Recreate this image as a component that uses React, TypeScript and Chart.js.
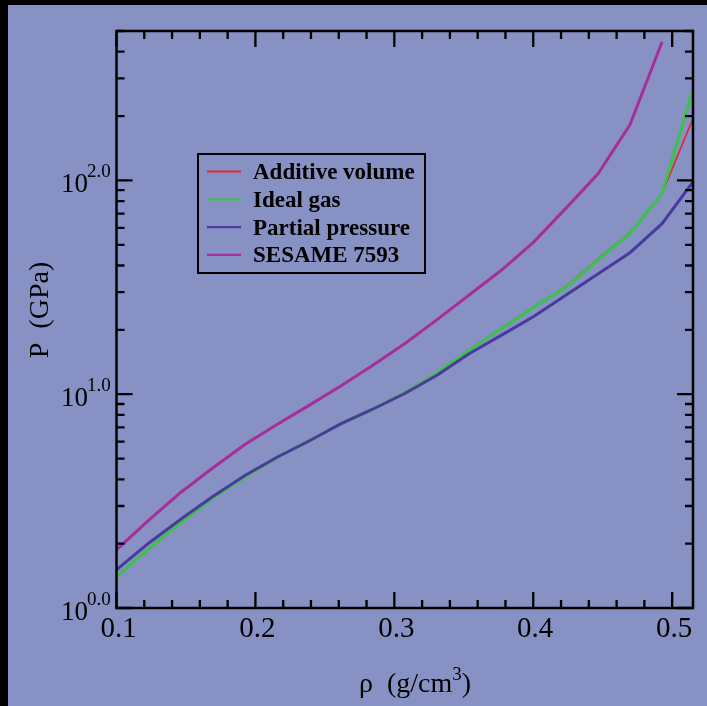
import React, { useEffect, useRef } from "react";
import { Chart, registerables } from "chart.js";

Chart.register(...registerables);

// ---- data ----
const densityNodes = [0.1, 0.1231, 0.1462, 0.1693, 0.1924, 0.2155, 0.2386, 0.2617, 0.2848, 0.3079, 0.331, 0.3541, 0.3772, 0.4003, 0.4234, 0.4465, 0.4696, 0.4927, 0.515];
const additiveVolume = [1.40, 1.89, 2.51, 3.27, 4.10, 5.05, 6.04, 7.28, 8.53, 10.2, 12.6, 16.1, 20.3, 25.5, 31.9, 43.0, 57.0, 86.9, 195];
const idealGas = [1.40, 1.89, 2.51, 3.27, 4.10, 5.05, 6.04, 7.28, 8.53, 10.2, 12.6, 16.1, 20.3, 25.5, 31.6, 42.4, 56.4, 86.9, 266];
const partialPressure = [1.51, 2.01, 2.60, 3.32, 4.17, 5.07, 6.04, 7.28, 8.53, 10.1, 12.3, 15.5, 18.9, 23.1, 29.0, 36.5, 45.9, 62.8, 98.4];
const sesame7593 = [1.87, 2.57, 3.47, 4.52, 5.82, 7.22, 8.87, 10.96, 13.7, 17.3, 22.4, 29.2, 38.1, 51.5, 74, 107, 182, 444, null];

const seriesNames = ["Additive volume", "Ideal gas", "Partial pressure", "SESAME 7593"];
const seriesColors = ["#e0282e", "#3ec04e", "#4a3a9e", "#a62e9c"];
const seriesWidths = [1.6, 3.2, 3, 3];

const xMajorTicks = [0.1, 0.2, 0.3, 0.4, 0.5];
const xTickLabels = ["0.1", "0.2", "0.3", "0.4", "0.5"];
const yMajorTicks = [1, 10, 100];
const yTickExponents = ["0.0", "1.0", "2.0"];
const xMin = 0.1, xMax = 0.515, yMin = 1, yMax = 500;

const BG = "#8891c3";
const SERIF = "'Liberation Serif', 'Times New Roman', serif";

function toPoints(vals: (number | null)[]) {
  return densityNodes.map((x, i) => ({ x, y: vals[i] })).filter((p) => p.y !== null);
}

const decorPlugin = {
  id: "decor",
  beforeDraw(chart: any) {
    const { ctx, width, height } = chart;
    ctx.save();
    ctx.fillStyle = BG;
    ctx.fillRect(0, 0, width, height);
    ctx.fillStyle = "#000";
    ctx.fillRect(0, 0, width, 5);
    ctx.fillRect(0, 0, 8, height);
    ctx.restore();
  },
  afterDraw(chart: any) {
    const { ctx, chartArea: a } = chart;
    const xs = chart.scales.x;
    const ys = chart.scales.y;
    ctx.save();
    ctx.strokeStyle = "#000";
    ctx.lineWidth = 2.5;
    ctx.strokeRect(a.left, a.top, a.right - a.left, a.bottom - a.top);

    const MAJ = 16, MIN = 8;
    ctx.lineWidth = 2.3;
    ctx.beginPath();
    // x ticks
    for (let k = 0; k <= 30; k++) {
      const v = +(0.1 + k * 0.02).toFixed(4);
      if (v > xMax + 1e-9) break;
      const px = xs.getPixelForValue(v);
      const isMajor = Math.abs(v * 10 - Math.round(v * 10)) < 1e-6;
      const len = isMajor ? MAJ : MIN;
      ctx.moveTo(px, a.bottom);
      ctx.lineTo(px, a.bottom - len);
      ctx.moveTo(px, a.top);
      ctx.lineTo(px, a.top + len);
    }
    // y ticks
    for (let d = 0; d <= 2; d++) {
      for (let m = 1; m <= 9; m++) {
        const v = m * Math.pow(10, d);
        if (v > yMax) break;
        const py = ys.getPixelForValue(v);
        const len = m === 1 ? MAJ : MIN;
        ctx.moveTo(a.left, py);
        ctx.lineTo(a.left + len, py);
        ctx.moveTo(a.right, py);
        ctx.lineTo(a.right - len, py);
      }
    }
    ctx.stroke();

    // x tick labels
    ctx.fillStyle = "#000";
    ctx.font = `29px ${SERIF}`;
    ctx.textAlign = "center";
    ctx.textBaseline = "alphabetic";
    xMajorTicks.forEach((v, i) => {
      ctx.fillText(xTickLabels[i], xs.getPixelForValue(v) + 2, 637);
    });

    // y tick labels 10^{e}
    yMajorTicks.forEach((v, i) => {
      const py = ys.getPixelForValue(v);
      ctx.textAlign = "left";
      ctx.font = `27px ${SERIF}`;
      ctx.fillText("10", 61, py + 12);
      ctx.font = `19px ${SERIF}`;
      ctx.fillText(yTickExponents[i], 87, py - 3);
    });

    // x title
    ctx.textAlign = "left";
    ctx.font = `28px ${SERIF}`;
    const main = "\u03c1  (g/cm";
    const w1 = ctx.measureText(main).width;
    ctx.font = `19px ${SERIF}`;
    const w2 = ctx.measureText("3").width;
    ctx.font = `28px ${SERIF}`;
    const w3 = ctx.measureText(")").width;
    const total = w1 + w2 + w3;
    const sx = 415 - total / 2;
    ctx.fillText(main, sx, 692);
    ctx.font = `19px ${SERIF}`;
    ctx.fillText("3", sx + w1, 680);
    ctx.font = `28px ${SERIF}`;
    ctx.fillText(")", sx + w1 + w2, 692);

    // y title
    ctx.save();
    ctx.translate(41, 310);
    ctx.rotate(-Math.PI / 2);
    ctx.textAlign = "center";
    ctx.textBaseline = "middle";
    ctx.font = `28px ${SERIF}`;
    ctx.fillText("P  (GPa)", 0, 0);
    ctx.restore();

    // legend
    ctx.lineWidth = 2;
    ctx.strokeStyle = "#000";
    ctx.strokeRect(198, 154, 227, 119);
    const rows = [171.5, 199.3, 227.1, 254.9];
    ctx.font = `bold 23px ${SERIF}`;
    ctx.textAlign = "left";
    ctx.textBaseline = "alphabetic";
    seriesNames.forEach((name, i) => {
      ctx.strokeStyle = seriesColors[i];
      ctx.lineWidth = 2.2;
      ctx.beginPath();
      ctx.moveTo(207, rows[i]);
      ctx.lineTo(241, rows[i]);
      ctx.stroke();
      ctx.fillStyle = "#000";
      ctx.fillText(name, 253, rows[i] + 7.5);
    });
    ctx.restore();
  },
};

export default function App() {
  const ref = useRef<HTMLCanvasElement>(null);
  useEffect(() => {
    if (!ref.current) return;
    const seriesVals = [additiveVolume, idealGas, partialPressure, sesame7593];
    const orders = [4, 3, 2, 1];
    const chart = new Chart(ref.current, {
      type: "line",
      data: {
        datasets: seriesVals.map((vals, i) => ({
          label: seriesNames[i],
          data: toPoints(vals),
          borderColor: seriesColors[i],
          backgroundColor: seriesColors[i],
          borderWidth: seriesWidths[i],
          pointRadius: 0,
          tension: 0,
          fill: false,
          order: orders[i],
          clip: 0,
        })),
      },
      options: {
        responsive: false,
        animation: false,
        devicePixelRatio: 1,
        layout: { padding: { left: 116.5, top: 31, right: 14, bottom: 98 } },
        plugins: { legend: { display: false }, tooltip: { enabled: false } },
        scales: {
          x: { type: "linear", min: xMin, max: xMax, display: false },
          y: { type: "logarithmic", min: yMin, max: yMax, display: false },
        },
      },
      plugins: [decorPlugin],
    });
    return () => chart.destroy();
  }, []);
  return (
    <div style={{ position: "absolute", left: 0, top: 0, width: 707, height: 706, background: BG }}>
      <canvas ref={ref} width={707} height={706} style={{ width: 707, height: 706, display: "block" }} />
    </div>
  );
}
